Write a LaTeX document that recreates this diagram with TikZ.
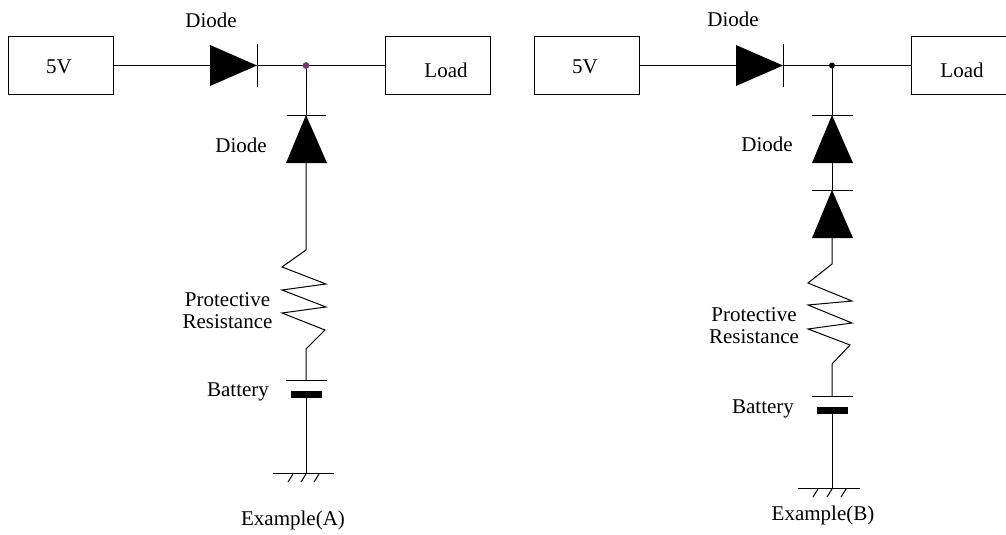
\documentclass[tikz,border=0pt]{standalone}
\usepackage{fontspec}
\setmainfont{Liberation Serif}
\definecolor{jdot}{RGB}{140,40,120}
\begin{document}
\begin{tikzpicture}[x=1pt,y=-1pt,line width=1pt,
  box/.style={draw,minimum width=105pt,minimum height=57pt,inner sep=0pt,font=\fontsize{21}{22}\selectfont},
  lbl/.style={font=\fontsize{21}{22}\selectfont,inner sep=0pt,align=center},
  plate/.style={fill=black,draw=none},
  body/.style={fill=black,draw=none}]
\useasboundingbox (0,0) rectangle (1006,535);
\clip (0,0) rectangle (1006,535);
% ---------------- Example (A) ----------------
\node[box] (srcA) at (60.5,65.5) {};
\node[lbl] (srcAt) at (59,67) {5V};
\node[box] (loadA) at (437.5,65.5) {};
\node[lbl] (loadAt) at (446,70) {Load};
\coordinate (dA1a) at (210,65.5);
\coordinate (dA1k) at (257,65.5);
\coordinate (jA) at (306,65.5);
\fill[body] (210,45) -- (210,86) -- (257,65.5) -- cycle;
\draw (257,44) -- (257,87);
\draw (srcA.east) -- (dA1a);
\draw (dA1k) -- (loadA.west);
\coordinate (dA2k) at (306,115);
\coordinate (dA2a) at (306,163);
\draw (jA) -- (dA2k);
\draw (287,115) -- (326,115);
\fill[body] (306,115) -- (286,163) -- (327,163) -- cycle;
\coordinate (rAt) at (306,250);
\coordinate (rAb) at (306,349);
\coordinate (batAp) at (306,380);
\coordinate (batAn) at (306,394);
\coordinate (gndA) at (306,473);
\draw (dA2a) -- (rAt) -- (282,267) -- (326,284) -- (282,290) -- (326,307) -- (282,313) -- (325,330) -- (rAb) -- (batAp);
\draw (286,380) -- (327,380);
\fill[plate] (291,391) rectangle (322,397.5);
\draw (batAn) -- (gndA);
\draw (273,473) -- (334,473);
\draw (288,482) -- (293,474);
\draw (301,482) -- (306,474);
\draw (314,482) -- (319,474);
\fill[jdot,draw=black!70,line width=0.6pt] (jA) circle (3pt);
\node[lbl] (tA1) at (211,20) {Diode};
\node[lbl] (tA2) at (241,145) {Diode};
\node[lbl] (tA3) at (227.5,311) {Protective\\Resistance};
\node[lbl] (tA4) at (238,392) {Battery};
\node[lbl] (tA5) at (293,520) {Example(A)};
% ---------------- Example (B) ----------------
\node[box] (srcB) at (586.5,65.5) {};
\node[lbl] (srcBt) at (585,67) {5V};
\node[box] (loadB) at (963.5,65.5) {};
\node[lbl] (loadBt) at (962,70) {Load};
\coordinate (dB1a) at (736,65.5);
\coordinate (dB1k) at (783,65.5);
\coordinate (jB) at (832,65.5);
\fill[body] (736,45) -- (736,86) -- (783,65.5) -- cycle;
\draw (783,44) -- (783,87);
\draw (srcB.east) -- (dB1a);
\draw (dB1k) -- (loadB.west);
\coordinate (dB2k) at (832,115);
\coordinate (dB2a) at (832,163);
\coordinate (dB3k) at (832,190);
\coordinate (dB3a) at (832,238);
\draw (jB) -- (dB2k);
\draw (812,115) -- (853,115);
\fill[body] (832,115) -- (812,163) -- (853,163) -- cycle;
\draw (dB2a) -- (dB3k);
\draw (812,190) -- (853,190);
\fill[body] (832,190) -- (812,238) -- (853,238) -- cycle;
\coordinate (rBt) at (832,264);
\coordinate (rBb) at (832,364);
\coordinate (batBp) at (832,396);
\coordinate (batBn) at (832,410);
\coordinate (gndB) at (832,488);
\draw (dB3a) -- (rBt) -- (808,283) -- (852,301) -- (808,305) -- (852,323) -- (808,329) -- (850,345) -- (rBb) -- (batBp);
\draw (812,396) -- (853,396);
\fill[plate] (817,407) rectangle (848,413.5);
\draw (batBn) -- (gndB);
\draw (798,488) -- (860,488);
\draw (813,497) -- (818,489);
\draw (827,497) -- (832,489);
\draw (841,497) -- (846,489);
\fill[black] (jB) circle (3pt);
\node[lbl] (tB1) at (733,19) {Diode};
\node[lbl] (tB2) at (767,144) {Diode};
\node[lbl] (tB3) at (754,326) {Protective\\Resistance};
\node[lbl] (tB4) at (763,409) {Battery};
\node[lbl] (tB5) at (823,515) {Example(B)};
\end{tikzpicture}
\end{document}
